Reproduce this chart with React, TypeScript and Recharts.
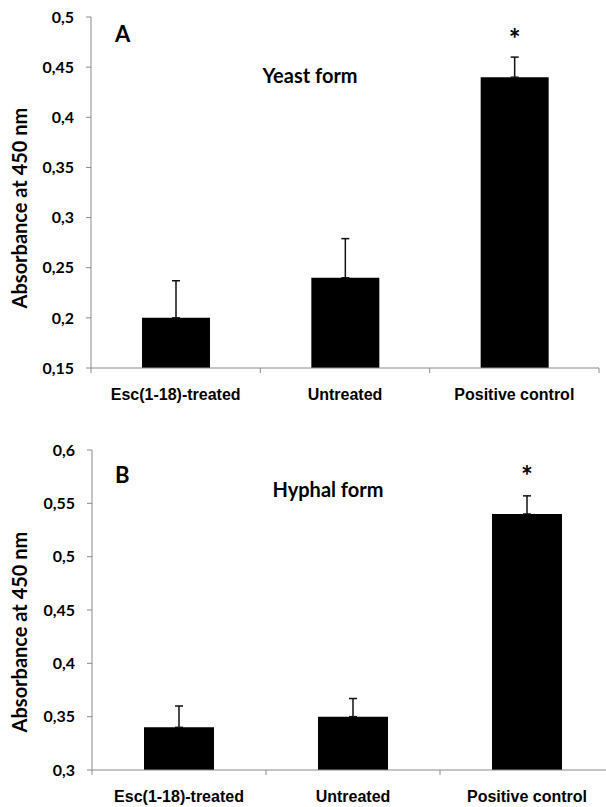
import React from "react";
import { BarChart, Bar, XAxis, YAxis, ErrorBar, LabelList } from "recharts";

// categories shared by both panels
const categories = ["Esc(1-18)-treated", "Untreated", "Positive control"];

// panel A - yeast form
const yeastValues = [0.2, 0.24, 0.44];
const yeastErrors = [0.037, 0.039, 0.02];
const yeastMarks = ["", "", "*"];
const yeastTicks = [0.15, 0.2, 0.25, 0.3, 0.35, 0.4, 0.45, 0.5];

// panel B - hyphal form
const hyphalValues = [0.34, 0.35, 0.54];
const hyphalErrors = [0.02, 0.017, 0.017];
const hyphalMarks = ["", "", "*"];
const hyphalTicks = [0.3, 0.35, 0.4, 0.45, 0.5, 0.55, 0.6];

// x positions: boundaries get a tick line, centers get the category name
const xTicks = [0, 0.5, 1, 1.5, 2, 2.5, 3];

const AXIS = "#8a8a8a";
const CALIBRI = "Lato, 'Open Sans', sans-serif";
const ARIAL = "'Liberation Sans', Arial, sans-serif";

const fmt = (v: number) => String(v).replace(".", ",");

const CategoryTick = (props: any) => {
  const { x, y, payload } = props;
  const v = payload.value;
  if (Number.isInteger(v)) {
    return <line x1={x} x2={x} y1={y} y2={y + 5} stroke={AXIS} strokeWidth={1} />;
  }
  return (
    <text
      x={x}
      y={y + 32}
      textAnchor="middle"
      fontFamily={ARIAL}
      fontWeight="bold"
      fontSize={16}
      fill="#000"
    >
      {categories[Math.floor(v)]}
    </text>
  );
};

interface PanelProps {
  values: number[];
  errors: number[];
  marks: string[];
  ticks: number[];
  letter: string;
  letterY: number;
  title: string;
  titleX: number;
  titleY: number;
  labelY: number;
  height: number;
  marginTop: number;
  marginRight: number;
  axisWidth: number;
  xAxisHeight: number;
  barSize: number;
}

const Panel = (p: PanelProps) => {
  const rows = categories.map((name, i) => ({
    name,
    pos: i + 0.5,
    value: p.values[i],
    err: [0, p.errors[i]],
    mark: p.marks[i],
  }));
  return (
    <div style={{ position: "relative", width: 606, height: p.height }}>
      <BarChart
        width={606}
        height={p.height}
        data={rows}
        margin={{ top: p.marginTop, right: p.marginRight, bottom: 0, left: 0 }}
      >
        <XAxis
          dataKey="pos"
          type="number"
          domain={[0, 3]}
          ticks={xTicks}
          interval={0}
          height={p.xAxisHeight}
          axisLine={{ stroke: AXIS, strokeWidth: 1 }}
          tickLine={false}
          tickSize={0}
          tickMargin={0}
          tick={<CategoryTick />}
        />
        <YAxis
          type="number"
          domain={[p.ticks[0], p.ticks[p.ticks.length - 1]]}
          ticks={p.ticks}
          interval={0}
          width={p.axisWidth}
          axisLine={{ stroke: AXIS, strokeWidth: 1 }}
          tickLine={{ stroke: AXIS, strokeWidth: 1 }}
          tickSize={5}
          tickMargin={12}
          tickFormatter={fmt}
          tick={{ fontFamily: CALIBRI, fontWeight: "bold", fontSize: 16, fill: "#000" }}
        />
        <Bar dataKey="value" fill="#000" barSize={p.barSize} isAnimationActive={false}>
          <ErrorBar dataKey="err" width={4} stroke="#111" strokeWidth={1.5} />
          <LabelList
            dataKey="mark"
            position="top"
            offset={28}
            style={{ fontFamily: CALIBRI, fontWeight: "bold", fontSize: 28, fill: "#000" }}
          />
        </Bar>
      </BarChart>
      <svg
        width={606}
        height={p.height}
        style={{ position: "absolute", left: 0, top: 0, pointerEvents: "none" }}
      >
        <text
          x={27}
          y={p.labelY}
          transform={`rotate(-90 27 ${p.labelY})`}
          textAnchor="middle"
          fontFamily={CALIBRI}
          fontWeight="bold"
          fontSize={20}
          fill="#000"
        >
          Absorbance at 450 nm
        </text>
        <text x={115} y={p.letterY} fontFamily={CALIBRI} fontWeight="bold" fontSize={22} fill="#000">
          {p.letter}
        </text>
        <text
          x={p.titleX}
          y={p.titleY}
          textAnchor="middle"
          fontFamily={CALIBRI}
          fontWeight="bold"
          fontSize={20}
          fill="#000"
        >
          {p.title}
        </text>
      </svg>
    </div>
  );
};

export default function App() {
  return (
    <div
      style={{
        position: "absolute",
        left: 0,
        top: 0,
        width: 606,
        height: 807,
        background: "#fff",
        overflow: "hidden",
      }}
    >
      <div style={{ position: "absolute", left: 0, top: 0 }}>
        <Panel
          values={yeastValues}
          errors={yeastErrors}
          marks={yeastMarks}
          ticks={yeastTicks}
          letter="A"
          letterY={42}
          title="Yeast form"
          titleX={310}
          titleY={83}
          labelY={208}
          height={410}
          marginTop={17}
          marginRight={7}
          axisWidth={91}
          xAxisHeight={42}
          barSize={68}
        />
      </div>
      <div style={{ position: "absolute", left: 0, top: 400 }}>
        <Panel
          values={hyphalValues}
          errors={hyphalErrors}
          marks={hyphalMarks}
          ticks={hyphalTicks}
          letter="B"
          letterY={83}
          title="Hyphal form"
          titleX={328}
          titleY={97}
          labelY={232}
          height={407}
          marginTop={50}
          marginRight={-8}
          axisWidth={92}
          xAxisHeight={37}
          barSize={70}
        />
      </div>
    </div>
  );
}
